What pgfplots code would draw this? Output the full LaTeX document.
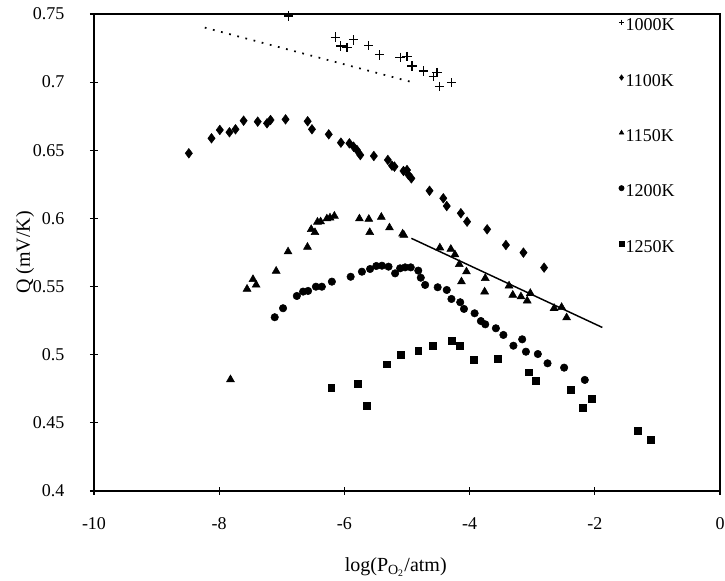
\documentclass[border=0pt]{standalone}
\usepackage{pgfplots}
\pgfplotsset{compat=1.18}
\usepackage{fontspec}
\setmainfont{Liberation Serif}
\pgfplotsset{
  onemark/.style={legend image code/.code={\draw[##1,mark size=2pt,yshift=2.8pt] plot coordinates {(0cm,0cm)};}},
}
\begin{document}
\begin{tikzpicture}
\begin{axis}[
  name=ax,
  scale only axis,
  width=469.5pt, height=357.75pt,
  xmin=-10, xmax=0, ymin=0.4, ymax=0.75,
  xtick={-10,-8,-6,-4,-2,0},
  ytick={0.4,0.45,0.5,0.55,0.6,0.65,0.7,0.75},
  yticklabels={0.4,0.45,0.5,0.55,0.6,0.65,0.7,0.75},
  xtick pos=lower, ytick pos=left,
  tick align=center,
  major tick length=6pt,
  tick style={line width=0.9pt, black},
  axis line style={line width=1.8pt},
  /pgf/number format/assume math mode=true,
  tick label style={font=\fontsize{13.5}{15}\selectfont},
  yticklabel style={inner sep=0pt, xshift=-19pt},
  xticklabel style={inner sep=0pt, yshift=-17pt},
  xlabel={log(P\textsubscript{O\textsubscript{2}}/atm)},
  ylabel={Q (mV/K)},
  label style={font=\fontsize{15}{17}\selectfont},
  xlabel style={at={(rel axis cs:0.482,-0.159)}, anchor=center},
  ylabel style={at={(rel axis cs:-0.11,0.5)}, anchor=center},
  legend style={at={(axis cs:-1.62,0.7475)}, anchor=north west, draw=none, fill=none,
    font=\fontsize{13.5}{15}\selectfont, row sep=29pt, inner sep=0pt,
    nodes={inner sep=1pt}},
  legend cell align=left,
]
% dotted trend line (1000K)
\addplot[forget plot, black, line width=1.3pt, dash pattern=on 1.3pt off 5pt] coordinates {(-8.23,0.740) (-4.92,0.700)};
% solid trend line (1150K)
\addplot[forget plot, black, line width=1.1pt] coordinates {(-4.93,0.5854) (-1.88,0.520)};

\addplot[only marks, black, mark=+, mark size=3.5pt, mark options={line width=0.9pt}, onemark] coordinates {
(-6.89,0.7485) (-6.145,0.733) (-6.056,0.7265) (-5.96,0.7253) (-5.853,0.731) (-5.61,0.7267)
(-5.44,0.720) (-5.11,0.7182) (-5.00,0.7187) (-4.92,0.7118) (-4.74,0.7082) (-4.58,0.704)
(-4.52,0.707) (-4.48,0.6967) (-4.29,0.6996)
};
\addlegendentry{1000K}

\addplot[only marks, black, mark=diamond*, mark size=3.6pt, onemark] coordinates {
(-8.485,0.6478) (-8.123,0.6588) (-7.99,0.6649) (-7.836,0.6632) (-7.74,0.6654) (-7.61,0.6717)
(-7.385,0.671) (-7.236,0.6698) (-7.18,0.6722) (-6.94,0.6727) (-6.587,0.6713) (-6.518,0.6654)
(-6.25,0.6617) (-6.056,0.6556) (-5.92,0.6551) (-5.853,0.6526) (-5.80,0.6502) (-5.746,0.6465)
(-5.53,0.6458) (-5.306,0.6429) (-5.24,0.6387) (-5.20,0.638) (-5.056,0.6348) (-5.0,0.6355)
(-4.976,0.6319) (-4.93,0.6294) (-4.64,0.6203) (-4.42,0.6148) (-4.365,0.6091) (-4.14,0.6038)
(-4.04,0.5976) (-3.72,0.592) (-3.42,0.5805) (-3.14,0.5749) (-2.81,0.5639)
};
\addlegendentry{1100K}

\addplot[only marks, black, mark=triangle*, mark size=3.4pt, onemark] coordinates {
(-7.82,0.4818) (-7.555,0.5482) (-7.46,0.5553) (-7.41,0.5512) (-7.09,0.5614) (-6.90,0.5756)
(-6.59,0.579) (-6.53,0.592) (-6.47,0.5897) (-6.43,0.5974) (-6.38,0.5976) (-6.28,0.5998)
(-6.23,0.6005) (-6.16,0.6018) (-5.76,0.5998) (-5.61,0.5995) (-5.41,0.601) (-5.595,0.5898)
(-5.28,0.5932) (-5.07,0.5887) (-5.05,0.5878) (-4.475,0.5785) (-4.30,0.5775) (-4.235,0.5735)
(-4.165,0.5663) (-4.05,0.5609) (-4.13,0.5536) (-3.75,0.5561) (-3.76,0.5462) (-3.37,0.5506)
(-3.31,0.5438) (-3.18,0.5426) (-3.08,0.5396) (-3.03,0.5451) (-2.65,0.5341) (-2.53,0.5348)
(-2.45,0.5272)
};
\addlegendentry{1150K}

\addplot[only marks, black, mark=*, mark size=2.8pt, onemark] coordinates {
(-7.113,0.5275) (-6.98,0.5341) (-6.76,0.5431) (-6.66,0.5463) (-6.58,0.5468) (-6.455,0.5499)
(-6.36,0.5499) (-6.2,0.5536) (-5.90,0.5572) (-5.72,0.5609) (-5.59,0.5629) (-5.49,0.5651)
(-5.40,0.5653) (-5.295,0.5646) (-5.19,0.5597) (-5.11,0.5634) (-5.03,0.5641) (-4.94,0.5641)
(-4.82,0.5617) (-4.78,0.5565) (-4.71,0.5512) (-4.51,0.5495) (-4.365,0.5475) (-4.29,0.5409)
(-4.15,0.5385) (-4.09,0.5336) (-3.92,0.5304) (-3.82,0.5247) (-3.75,0.5223) (-3.58,0.5194)
(-3.46,0.5145) (-3.30,0.5066) (-3.16,0.5113) (-3.10,0.5022) (-2.91,0.5005) (-2.755,0.4937)
(-2.49,0.4905) (-2.16,0.4815)
};
\addlegendentry{1200K}

\addplot[only marks, black, mark=square*, mark size=2.6pt, onemark] coordinates {
(-6.21,0.4758) (-5.79,0.4790) (-5.65,0.4624) (-5.33,0.4930) (-5.10,0.4998) (-4.82,0.5030)
(-4.59,0.5066) (-4.285,0.5101) (-4.16,0.5066) (-3.93,0.4966) (-3.55,0.4969) (-3.05,0.4871)
(-2.94,0.4807) (-2.39,0.4741) (-2.05,0.4675) (-2.19,0.4609) (-1.32,0.4443) (-1.105,0.4374)
};
\addlegendentry{1250K}
\end{axis}
\pgfresetboundingbox
\path[use as bounding box] ([shift={(-70.5pt,-67.5pt)}]ax.south west) rectangle ([shift={(3.75pt,10.5pt)}]ax.north east);
\end{tikzpicture}
\end{document}
